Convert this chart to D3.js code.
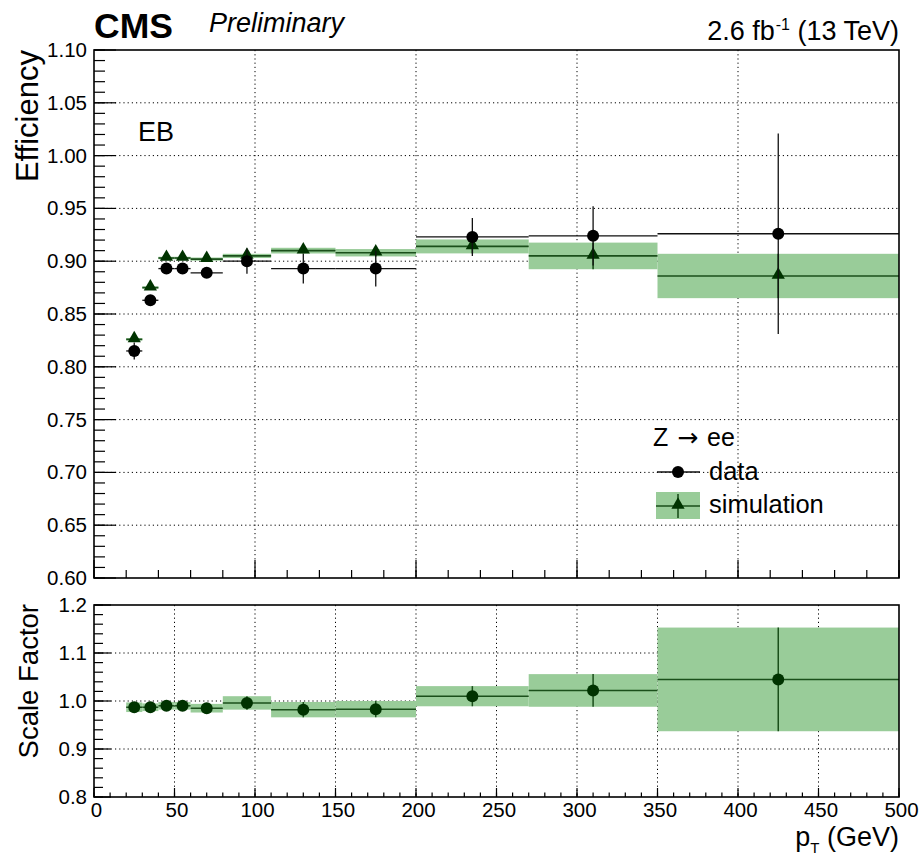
<!DOCTYPE html>
<html>
<head>
<meta charset="utf-8">
<script src="https://cdn.jsdelivr.net/npm/d3@7"></script>
<style>
  html, body { margin: 0; padding: 0; background: #fff; }
  svg { display: block; }
  text { font-family: "Liberation Sans", Arial, sans-serif; fill: #000; }
</style>
</head>
<body>
<svg id="chart" width="919" height="856"></svg>
<script>
// ---------------- data ----------------
const binLow  = [20, 30, 40, 50, 60, 80, 110, 150, 200, 270, 350];
const binHigh = [30, 40, 50, 60, 80, 110, 150, 200, 270, 350, 500];
const binCenter = [25, 35, 45, 55, 70, 95, 130, 175, 235, 310, 425];

const effData    = [0.815, 0.863, 0.893, 0.893, 0.889, 0.900, 0.893, 0.893, 0.923, 0.924, 0.926];
const effDataErr = [0.008, 0.005, 0.004, 0.004, 0.005, 0.012, 0.014, 0.017, 0.018, 0.028, 0.095];
const effMC      = [0.826, 0.875, 0.903, 0.903, 0.902, 0.905, 0.910, 0.908, 0.914, 0.905, 0.886];
const effMCErr   = [0.0012, 0.0012, 0.0012, 0.0012, 0.0015, 0.002, 0.0027, 0.0035, 0.0066, 0.0126, 0.021];

const sf    = [0.987, 0.987, 0.990, 0.990, 0.985, 0.996, 0.982, 0.983, 1.010, 1.022, 1.045];
const sfErr = [0.010, 0.008, 0.008, 0.008, 0.009, 0.014, 0.016, 0.017, 0.021, 0.034, 0.108];

const topYTicks   = [0.60, 0.65, 0.70, 0.75, 0.80, 0.85, 0.90, 0.95, 1.00, 1.05, 1.10];
const ratioYTicks = [0.8, 0.9, 1.0, 1.1, 1.2];
const xTicks      = [0, 50, 100, 150, 200, 250, 300, 350, 400, 450, 500];

// ---------------- layout ----------------
const svg = d3.select("#chart");
const L = 94, R = 899;
const topT = 50, topB = 578;
const ratT = 605, ratB = 797;

const x  = d3.scaleLinear().domain([0, 500]).range([L, R]);
const yT = d3.scaleLinear().domain([0.6, 1.1]).range([topB, topT]);
const yR = d3.scaleLinear().domain([0.8, 1.2]).range([ratB, ratT]);

const bandColor = "#99cc99";
const mcLine = "#1b4f1b";
const mcMarker = "#003300";
const idx = d3.range(binLow.length);

function range(a, b, s) { const out = []; for (let v = a; v <= b + 1e-9; v += s) out.push(+v.toFixed(4)); return out; }

const dots = "1.2,3";

// ---------------- top panel grid ----------------
const gTop = svg.append("g");
gTop.selectAll("line.hg").data(topYTicks.slice(1, -1)).join("line")
  .attr("x1", L).attr("x2", R).attr("y1", d => yT(d)).attr("y2", d => yT(d))
  .attr("stroke", "#000").attr("stroke-width", 1).attr("stroke-dasharray", dots);
gTop.selectAll("line.vg").data([100, 200, 300, 400]).join("line")
  .attr("x1", d => x(d)).attr("x2", d => x(d)).attr("y1", topT).attr("y2", topB)
  .attr("stroke", "#000").attr("stroke-width", 1).attr("stroke-dasharray", dots);

// ---------------- ratio panel grid ----------------
const gRat = svg.append("g");
gRat.selectAll("line.hg").data([0.9, 1.0, 1.1]).join("line")
  .attr("x1", L).attr("x2", R).attr("y1", d => yR(d)).attr("y2", d => yR(d))
  .attr("stroke", "#000").attr("stroke-width", 1).attr("stroke-dasharray", dots);
gRat.selectAll("line.vg").data(xTicks.slice(1, -1)).join("line")
  .attr("x1", d => x(d)).attr("x2", d => x(d)).attr("y1", ratT).attr("y2", ratB)
  .attr("stroke", "#000").attr("stroke-width", 1).attr("stroke-dasharray", dots);

// ---------------- top panel: simulation ----------------
gTop.selectAll("rect.band").data(idx).join("rect")
  .attr("x", i => x(binLow[i])).attr("width", i => x(binHigh[i]) - x(binLow[i]))
  .attr("y", i => yT(effMC[i] + effMCErr[i]))
  .attr("height", i => Math.max(1.5, yT(effMC[i] - effMCErr[i]) - yT(effMC[i] + effMCErr[i])))
  .attr("fill", bandColor);
gTop.selectAll("line.mch").data(idx).join("line")
  .attr("x1", i => x(binLow[i])).attr("x2", i => x(binHigh[i]))
  .attr("y1", i => yT(effMC[i])).attr("y2", i => yT(effMC[i]))
  .attr("stroke", mcLine).attr("stroke-width", 1.6);
gTop.selectAll("line.mcv").data(idx).join("line")
  .attr("x1", i => x(binCenter[i])).attr("x2", i => x(binCenter[i]))
  .attr("y1", i => yT(effMC[i] + effMCErr[i])).attr("y2", i => yT(effMC[i] - effMCErr[i]))
  .attr("stroke", mcLine).attr("stroke-width", 1.6);
const tri = d3.symbol().type(d3.symbolTriangle).size(76);
gTop.selectAll("path.tri").data(idx).join("path")
  .attr("d", tri)
  .attr("transform", i => `translate(${x(binCenter[i])},${yT(effMC[i]) - 1})`)
  .attr("fill", mcMarker);

// ---------------- top panel: data ----------------
gTop.selectAll("line.dh").data(idx).join("line")
  .attr("x1", i => x(binLow[i])).attr("x2", i => x(binHigh[i]))
  .attr("y1", i => yT(effData[i])).attr("y2", i => yT(effData[i]))
  .attr("stroke", "#111").attr("stroke-width", 1.3);
gTop.selectAll("line.dv").data(idx).join("line")
  .attr("x1", i => x(binCenter[i])).attr("x2", i => x(binCenter[i]))
  .attr("y1", i => yT(effData[i] + effDataErr[i])).attr("y2", i => yT(effData[i] - effDataErr[i]))
  .attr("stroke", "#111").attr("stroke-width", 1.3);
gTop.selectAll("circle.d").data(idx).join("circle")
  .attr("cx", i => x(binCenter[i])).attr("cy", i => yT(effData[i])).attr("r", 6)
  .attr("fill", "#000");

// ---------------- ratio panel ----------------
gRat.selectAll("rect.band").data(idx).join("rect")
  .attr("x", i => x(binLow[i])).attr("width", i => x(binHigh[i]) - x(binLow[i]))
  .attr("y", i => yR(sf[i] + sfErr[i]))
  .attr("height", i => yR(sf[i] - sfErr[i]) - yR(sf[i] + sfErr[i]))
  .attr("fill", bandColor);
gRat.selectAll("line.h").data(idx).join("line")
  .attr("x1", i => x(binLow[i])).attr("x2", i => x(binHigh[i]))
  .attr("y1", i => yR(sf[i])).attr("y2", i => yR(sf[i]))
  .attr("stroke", mcLine).attr("stroke-width", 1.5);
gRat.selectAll("line.v").data(idx).join("line")
  .attr("x1", i => x(binCenter[i])).attr("x2", i => x(binCenter[i]))
  .attr("y1", i => yR(sf[i] + sfErr[i])).attr("y2", i => yR(sf[i] - sfErr[i]))
  .attr("stroke", mcLine).attr("stroke-width", 1.5);
gRat.selectAll("circle").data(idx).join("circle")
  .attr("cx", i => x(binCenter[i])).attr("cy", i => yR(sf[i])).attr("r", 6)
  .attr("fill", mcMarker);

// ---------------- frames & ticks ----------------
function frame(t, b) {
  svg.append("rect").attr("x", L).attr("y", t).attr("width", R - L).attr("height", b - t)
    .attr("fill", "none").attr("stroke", "#000").attr("stroke-width", 1.6);
}
frame(topT, topB);
frame(ratT, ratB);

function yTicksDraw(scale, majors, minors, majLen, minLen) {
  const g = svg.append("g");
  g.selectAll("line.mi").data(minors).join("line")
    .attr("x1", L).attr("x2", L + minLen).attr("y1", d => scale(d)).attr("y2", d => scale(d))
    .attr("stroke", "#000").attr("stroke-width", 1.2);
  g.selectAll("line.ma").data(majors).join("line")
    .attr("x1", L).attr("x2", L + majLen).attr("y1", d => scale(d)).attr("y2", d => scale(d))
    .attr("stroke", "#000").attr("stroke-width", 1.2);
}
function xTicksDraw(scale, base, majors, minors, majLen, minLen) {
  const g = svg.append("g");
  g.selectAll("line.mi").data(minors).join("line")
    .attr("x1", d => scale(d)).attr("x2", d => scale(d)).attr("y1", base).attr("y2", base - minLen)
    .attr("stroke", "#000").attr("stroke-width", 1.2);
  g.selectAll("line.ma").data(majors).join("line")
    .attr("x1", d => scale(d)).attr("x2", d => scale(d)).attr("y1", base).attr("y2", base - majLen)
    .attr("stroke", "#000").attr("stroke-width", 1.2);
}
yTicksDraw(yT, topYTicks, range(0.6, 1.1, 0.01), 22, 11);
yTicksDraw(yR, ratioYTicks, range(0.8, 1.2, 0.02), 17, 9);
xTicksDraw(x, topB, [0, 100, 200, 300, 400, 500], range(0, 500, 20), 18, 8);
xTicksDraw(x, ratB, xTicks, range(0, 500, 10), 9, 4.5);

// tick labels (via d3 axis)
const axTop = d3.axisLeft(yT).tickValues(topYTicks).tickFormat(d3.format(".2f")).tickSize(0).tickPadding(7);
const gAxT = svg.append("g").attr("transform", `translate(${L},0)`).call(axTop);
gAxT.select(".domain").remove();
gAxT.selectAll("text").attr("font-size", 20.5).attr("font-family", "Liberation Sans, Arial, sans-serif").attr("fill", "#000");

const axRat = d3.axisLeft(yR).tickValues(ratioYTicks).tickFormat(d3.format(".1f")).tickSize(0).tickPadding(7);
const gAxR = svg.append("g").attr("transform", `translate(${L},0)`).call(axRat);
gAxR.select(".domain").remove();
gAxR.selectAll("text").attr("font-size", 20.5).attr("font-family", "Liberation Sans, Arial, sans-serif").attr("fill", "#000");

const axX = d3.axisBottom(x).tickValues(xTicks).tickFormat(d3.format("d")).tickSize(0).tickPadding(5);
const gAxX = svg.append("g").attr("transform", `translate(2,${ratB})`).call(axX);
gAxX.select(".domain").remove();
gAxX.selectAll("text").attr("font-size", 20.5).attr("font-family", "Liberation Sans, Arial, sans-serif").attr("fill", "#000");

// ---------------- titles ----------------
svg.append("text").attr("transform", `translate(38,${topT}) rotate(-90)`)
  .attr("text-anchor", "end").attr("font-size", 31).text("Efficiency");
svg.append("text").attr("transform", `translate(38,${ratT - 1}) rotate(-90)`)
  .attr("text-anchor", "end").attr("font-size", 27.5).text("Scale Factor");

const xt = svg.append("text").attr("x", R).attr("y", 846).attr("text-anchor", "end").attr("font-size", 27);
xt.append("tspan").text("p");
xt.append("tspan").attr("font-size", 15).attr("dy", 7).text("T");
xt.append("tspan").attr("dy", -7).text(" (GeV)");

svg.append("text").attr("x", L).attr("y", 38).attr("font-size", 35.5).attr("font-weight", "bold").text("CMS");
svg.append("text").attr("x", 209).attr("y", 32).attr("font-size", 27).attr("font-style", "italic").text("Preliminary");

const lumi = svg.append("text").attr("x", R).attr("y", 40).attr("text-anchor", "end").attr("font-size", 27);
lumi.append("tspan").text("2.6 fb");
lumi.append("tspan").attr("font-size", 16).attr("dy", -10).attr("dx", 1).text("-1");
lumi.append("tspan").attr("dy", 10).text(" (13 TeV)");

svg.append("text").attr("x", 138).attr("y", 141).attr("font-size", 27).text("EB");

// ---------------- legend ----------------
const zt = svg.append("text").attr("x", 653).attr("y", 446).attr("font-size", 25);
zt.append("tspan").text("Z ");
zt.append("tspan").attr("font-family", "DejaVu Sans, sans-serif").attr("font-size", 25).attr("dx", 2).text("\u2192");
zt.append("tspan").attr("dx", 2).text(" ee");
const lg = svg.append("g");
lg.append("line").attr("x1", 657).attr("x2", 700).attr("y1", 472).attr("y2", 472).attr("stroke", "#111").attr("stroke-width", 1.3);
lg.append("circle").attr("cx", 678).attr("cy", 472).attr("r", 6).attr("fill", "#000");
lg.append("text").attr("x", 709).attr("y", 480).attr("font-size", 25.5).text("data");
lg.append("rect").attr("x", 656).attr("y", 492).attr("width", 44).attr("height", 27).attr("fill", bandColor);
lg.append("line").attr("x1", 656).attr("x2", 700).attr("y1", 506).attr("y2", 506).attr("stroke", mcLine).attr("stroke-width", 1.6);
lg.append("line").attr("x1", 678).attr("x2", 678).attr("y1", 494).attr("y2", 518).attr("stroke", mcLine).attr("stroke-width", 1.6);
lg.append("path").attr("d", tri).attr("transform", "translate(678,505)").attr("fill", mcMarker);
lg.append("text").attr("x", 709).attr("y", 513).attr("font-size", 25.5).text("simulation");
</script>
</body>
</html>
